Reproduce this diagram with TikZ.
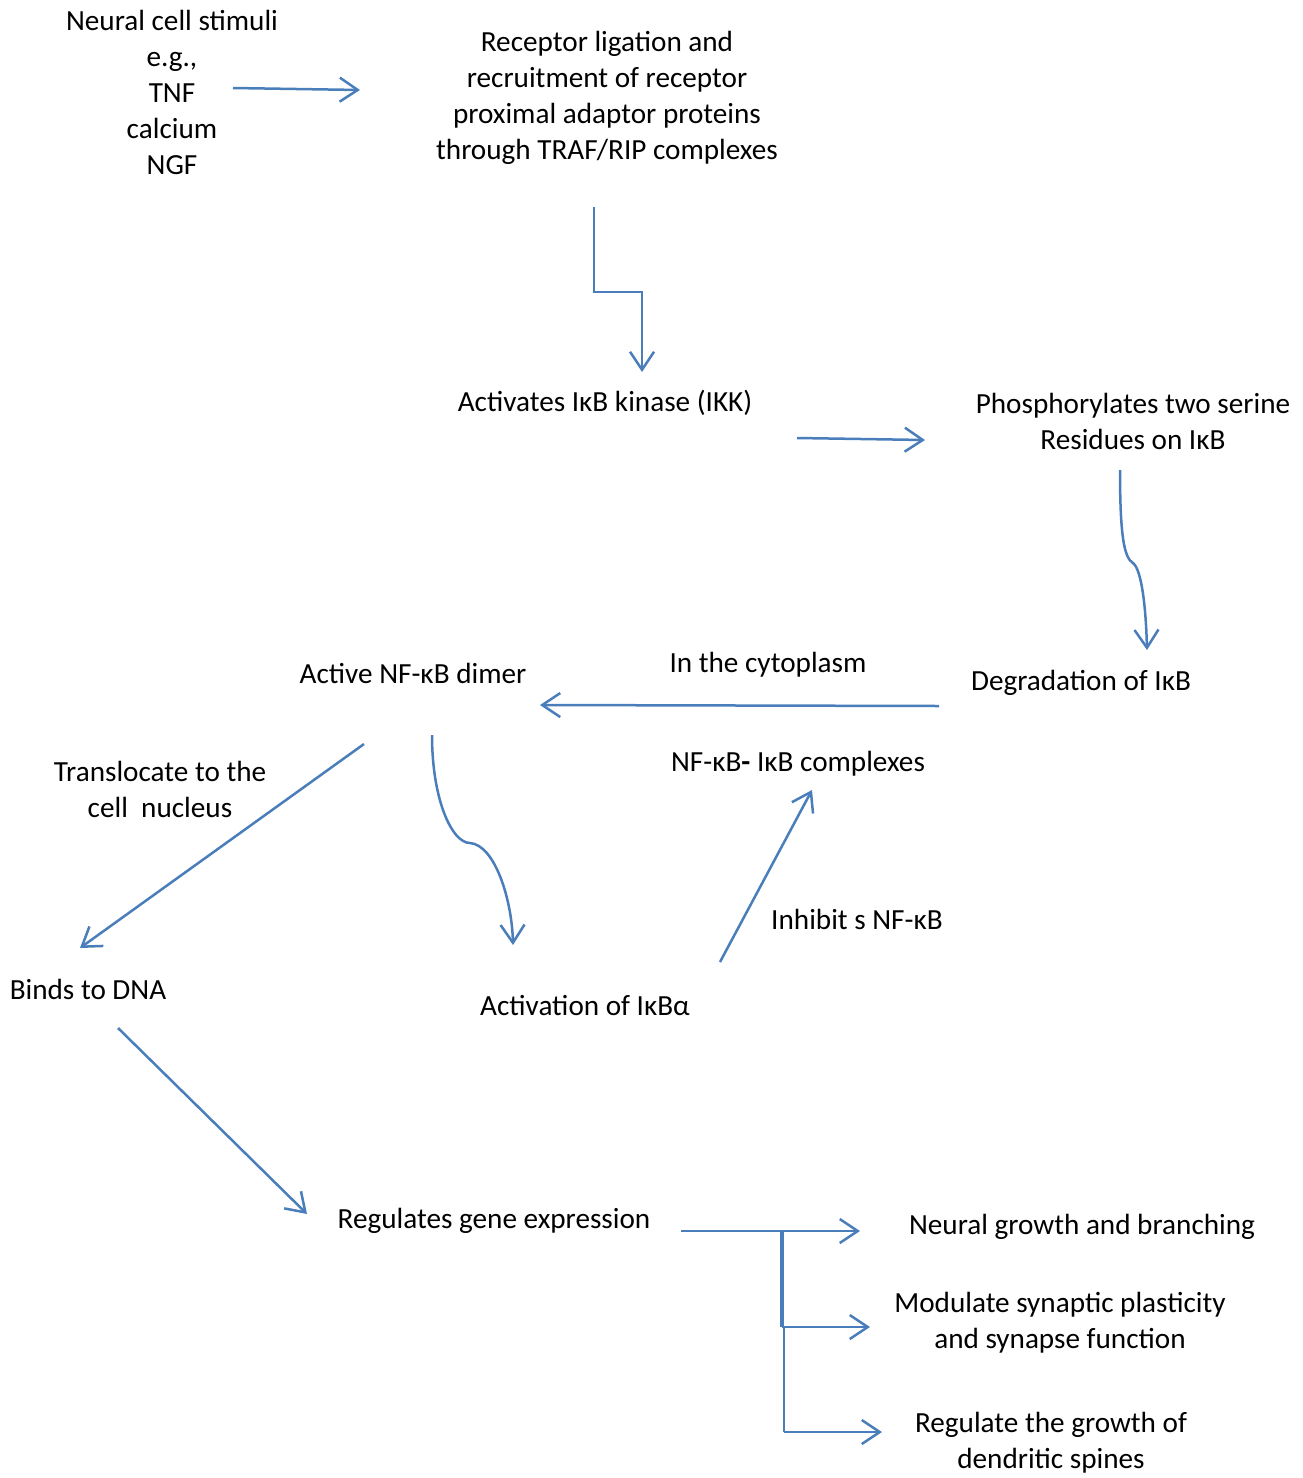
\documentclass[tikz,border=0pt]{standalone}
\usepackage{fontspec}
\setmainfont{Carlito}
\usetikzlibrary{arrows.meta}
\definecolor{arrowblue}{HTML}{4A7EBB}
\tikzset{
  lbl/.style={align=center, inner sep=0pt, font=\fontsize{29.2}{36}\selectfont, text=black},
  conn/.style={draw=arrowblue, line width=2.5pt, -{Straight Barb[length=18pt,width=24pt,line width=2.5pt]}},
  plain/.style={draw=arrowblue, line width=2.5pt},
}
\begin{document}
\begin{tikzpicture}[x=1pt,y=-1pt]
\useasboundingbox (0,0) rectangle (1303,1478);
% nodes
\node[lbl] (stim) at (172,92) {Neural cell stimuli\\e.g.,\\TNF\\calcium\\NGF};
\node[lbl] (recep) at (607,98) {Receptor ligation and\\recruitment of receptor\\proximal adaptor proteins\\through TRAF/RIP complexes};
\node[lbl] (ikk) at (605,403) {Activates IκB kinase (IKK)};
\node[lbl] (phos) at (1133,421) {Phosphorylates two serine\\Residues on IκB};
\node[lbl] (degr) at (1081,683) {Degradation of IκB};
\node[lbl] (cyto) at (768,665) {In the cytoplasm};
\node[lbl] (dimer) at (413,673) {Active NF-κB dimer};
\node[lbl] (compl) at (798,764) {NF-κB{\bfseries -} IκB complexes};
\node[lbl] (transl) at (160,789) {Translocate to the\\cell\ \ nucleus};
\node[lbl] (inhib) at (857,919) {Inhibit s NF-κB};
\node[lbl] (dna) at (88,989) {Binds to DNA};
\node[lbl] (actv) at (585,1005) {Activation of IκBα};
\node[lbl] (gene) at (494,1221) {Regulates gene expression};
\node[lbl] (growth) at (1082,1227) {Neural growth and branching};
\node[lbl] (synap) at (1060,1323) {Modulate synaptic plasticity\\and synapse function};
\node[lbl] (dend) at (1051,1443) {Regulate the growth of\\dendritic spines};
% connector end points
\coordinate (a1s) at (233,88);  \coordinate (a1e) at (360,90);
\coordinate (a2s) at (594,207); \coordinate (a2e) at (642,372);
\coordinate (a3s) at (797,438); \coordinate (a3e) at (925,440);
\coordinate (a4s) at (1120,470); \coordinate (a4k) at (1133,563); \coordinate (a4e) at (1147,650);
\coordinate (a5s) at (939,706); \coordinate (a5e) at (540,705);
\coordinate (a6s) at (364,744); \coordinate (a6e) at (80,948);
\coordinate (a7s) at (432,735); \coordinate (a7k) at (470,843); \coordinate (a7e) at (513,945);
\coordinate (a8s) at (720,962); \coordinate (a8e) at (812,790);
\coordinate (a9s) at (118,1028); \coordinate (a9e) at (307,1214);
\coordinate (b0) at (681,1231); \coordinate (b1) at (782,1231);
\coordinate (b1e) at (860,1231);
\coordinate (b2) at (782,1327); \coordinate (b2e) at (870,1327);
\coordinate (b3) at (784,1327); \coordinate (b3m) at (784,1432); \coordinate (b3e) at (882,1432);
% connectors
\draw[conn] (a1s) -- (a1e);
\draw[conn] (a2s) -- (594,292) -- (642,292) -- (a2e);
\draw[conn] (a3s) -- (a3e);
\draw[conn] (a4s) .. controls (1120,535) and (1124,558) .. (a4k) .. controls (1142,570) and (1146,610) .. (a4e);
\draw[conn] (a5s) -- (a5e);
\draw[conn] (a6s) -- (a6e);
\draw[conn] (a7s) .. controls (432,800) and (452,843) .. (a7k) .. controls (495,845) and (512,900) .. (a7e);
\draw[conn] (a8s) -- (a8e);
\draw[conn] (a9s) -- (a9e);
\draw[conn] (b0) -- (b1e);
\draw[plain, line width=3.5pt] (b1) -- (b2);
\draw[conn] (b2) -- (b2e);
\draw[plain, line width=2pt] (b3) -- (b3m);
\draw[conn] (b3m) -- (b3e);
\end{tikzpicture}
\end{document}
